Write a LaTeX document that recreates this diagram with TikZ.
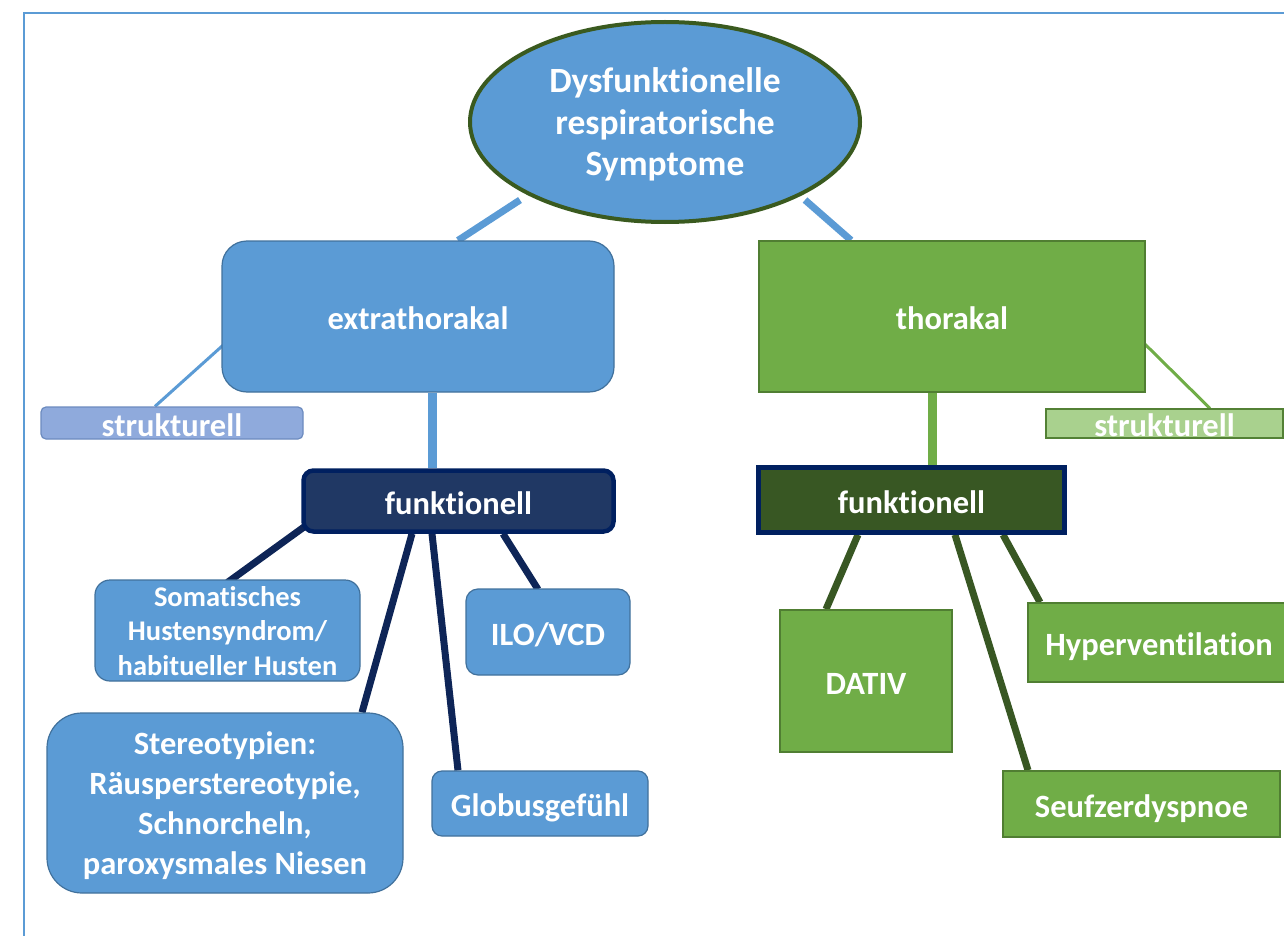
\documentclass[tikz,border=0pt]{standalone}
\usepackage{fontspec}
\setmainfont{Carlito}[Ligatures={NoCommon}]
\usetikzlibrary{shapes.geometric,calc,backgrounds}
\definecolor{bfill}{HTML}{5B9BD5}
\definecolor{bline}{HTML}{41719C}
\definecolor{gfill}{HTML}{70AD47}
\definecolor{gline}{HTML}{507E32}
\definecolor{lbfill}{HTML}{8FAADC}
\definecolor{lbline}{HTML}{6C8BBF}
\definecolor{lgfill}{HTML}{A9D18E}
\definecolor{lgline}{HTML}{538135}
\definecolor{navy}{HTML}{203864}
\definecolor{navyline}{HTML}{002060}
\definecolor{dgreen}{HTML}{385723}
\definecolor{ellline}{HTML}{3A5A1F}
\definecolor{navycon}{HTML}{0E2557}
\tikzset{
  txt/.style={text=white,font=\fontsize{32.5}{40}\selectfont\bfseries,align=center,inner sep=0pt,text depth=0pt},
  one/.style={text height=26pt},
  bluebox/.style={txt,fill=bfill,draw=bline,line width=1.2pt},
  greenbox/.style={txt,fill=gfill,draw=gline,line width=1.5pt},
  con/.style={line width=7pt},
}
\begin{document}
\begin{tikzpicture}[x=1pt,y=-1pt]
\useasboundingbox (0,0) rectangle (1284,936);
\draw[bfill,line width=2pt] (1300,13) -- (24,13) -- (24,950);

\node[ellipse,txt,font=\fontsize{35.5}{41.5}\selectfont\bfseries,text depth=-5pt,fill=bfill,draw=ellline,line width=4pt,minimum width=390pt,minimum height=200pt] (ell) at (665,122)
  {Dysfunktionelle\\respiratorische\\Symptome};

\node[bluebox,one,rounded corners=25pt,minimum width=392pt,minimum height=151pt] (ext) at (418,316.5) {extrathorakal};
\node[greenbox,one,minimum width=386pt,minimum height=151pt] (thor) at (952,316.5) {thorakal};

\node[txt,one,fill=lbfill,draw=lbline,line width=1.2pt,rounded corners=5pt,minimum width=262pt,minimum height=32pt] (strL) at (172,423) {strukturell};
\node[txt,one,fill=lgfill,draw=lgline,line width=1.2pt,minimum width=237pt,minimum height=29pt] (strR) at (1164.5,423.5) {strukturell};

\node[txt,one,fill=navy,draw=navyline,line width=4.5pt,rounded corners=10pt,minimum width=310pt,minimum height=61pt] (fL) at (458.5,501) {funktionell};
\node[txt,one,fill=dgreen,draw=navyline,line width=4.5pt,minimum width=306pt,minimum height=65pt] (fR) at (911.5,500) {funktionell};

\node[bluebox,font=\fontsize{28.5}{34.5}\selectfont\bfseries,rounded corners=15pt,minimum width=265pt,minimum height=101pt] (som) at (227.5,630.5)
  {Somatisches\\Hustensyndrom/\\habitueller Husten};
\node[bluebox,font=\fontsize{32.5}{40}\selectfont\bfseries,rounded corners=35pt,minimum width=356pt,minimum height=180pt] (ster) at (225,803)
  {Stereotypien:\\Räusperstereotypie,\\Schnorcheln,\\paroxysmales Niesen};
\node[bluebox,one,rounded corners=10pt,minimum width=216pt,minimum height=65pt] (glob) at (540,803.5) {Globusgefühl};
\node[bluebox,one,rounded corners=12pt,minimum width=164pt,minimum height=86pt] (ilo) at (548,632) {ILO/VCD};

\node[greenbox,one,minimum width=172pt,minimum height=142pt] (dativ) at (866,681) {DATIV};
\node[greenbox,one,minimum width=262pt,minimum height=79pt] (hyper) at (1159,642.5) {Hyperventilation};
\node[greenbox,one,minimum width=277pt,minimum height=66pt] (seuf) at (1141.5,804) {Seufzerdyspnoe};

\begin{scope}[on background layer]
  \draw[con,bfill] ($(ext.north)+(40,0)$) -- ($(ell.center)+(-145,78)$);
  \draw[con,bfill] ($(thor.north)+(-101,0)$) -- ($(ell.center)+(140,78)$);
  \draw[bfill,line width=3pt] ($(ext.west)+(8,23)$) -- ($(strL.north)+(-17,0)$);
  \draw[gfill,line width=3pt] ($(thor.east)+(-5,23.5)$) -- ($(strR.north)+(45.5,0)$);
  \draw[bfill,line width=9pt] ($(ext.south)+(14,0)$) -- ($(fL.north)+(-26.5,0)$);
  \draw[gfill,line width=9pt] ($(thor.south)+(-20,0)$) -- ($(fR.north)+(20.5,0)$);
  \draw[con,navycon] ($(fL.south west)+(10,-12)$) -- ($(som.north)+(0,3)$);
  \draw[con,navycon] ($(fL.south)+(-46.5,0)$) -- ($(ster.north)+(137,0)$);
  \draw[con,navycon] ($(fL.south)+(-26.5,0)$) -- ($(glob.north)+(-82,0)$);
  \draw[con,navycon] ($(fL.south)+(44.5,0)$) -- ($(ilo.north)+(-10,1)$);
  \draw[con,dgreen] ($(fR.south)+(-53.5,0)$) -- ($(dativ.north)+(-40,0)$);
  \draw[con,dgreen] ($(fR.south)+(43.5,0)$) -- ($(seuf.north)+(-113.5,0)$);
  \draw[con,dgreen] ($(fR.south)+(91.5,0)$) -- ($(hyper.north)+(-119,0)$);
\end{scope}
\end{tikzpicture}
\end{document}
